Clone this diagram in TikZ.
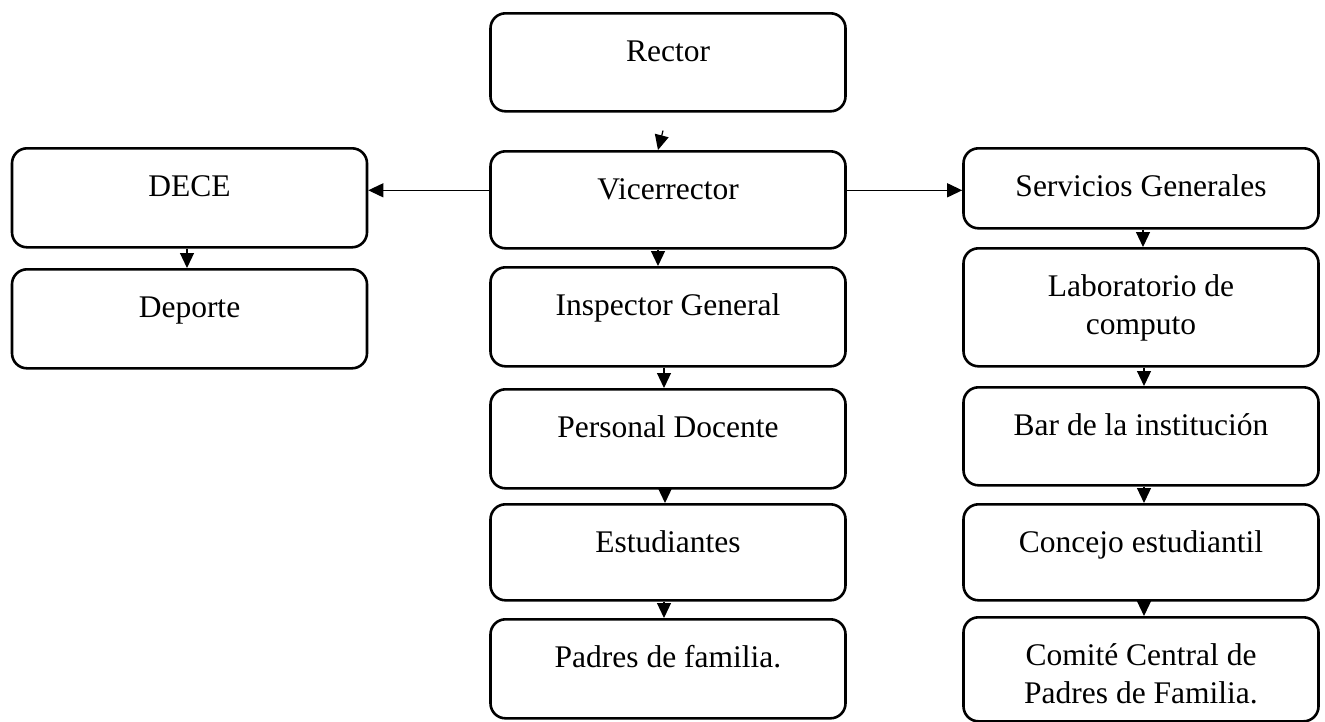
\documentclass[tikz,border=0pt]{standalone}
\usepackage{fontspec}
\setmainfont{Liberation Serif}
\usetikzlibrary{arrows.meta,positioning}
\tikzset{
  box/.style={draw,line width=2.6pt,rounded corners=15pt,minimum width=355pt,
    inner sep=0pt,anchor=north,align=center,text height=48pt,
    font=\fontsize{31.5}{38}\selectfont},
  arr/.style={line width=1.2pt,-{Triangle[length=15pt,width=14pt]}}
}
\begin{document}
\begin{tikzpicture}[x=1pt,y=-1pt]
\useasboundingbox (0,0) rectangle (1325,721);
\node[box,text depth=50pt] (rector) at (668,12) {Rector};
\node[box,text depth=49pt] (vice) at (668,150) {Vicerrector};
\node[box,text depth=51pt] (insp) at (668,266) {Inspector General};
\node[box,text depth=51pt] (doc) at (668,388) {Personal Docente};
\node[box,text depth=48pt] (est) at (668,503) {Estudiantes};
\node[box,text depth=51pt] (pad) at (668,618) {Padres de familia.};
\node[box,text depth=51pt] (dece) at (189.5,147) {DECE};
\node[box,text depth=51pt] (dep) at (189.5,268) {Deporte};
\node[box,text depth=32pt] (serv) at (1141,147) {Servicios Generales};
\node[box,text height=86pt,text depth=32pt] (lab) at (1141,247) {Laboratorio de\\computo};
\node[box,text depth=50pt] (bar) at (1141,386) {Bar de la institución};
\node[box,text depth=48pt] (conc) at (1141,503) {Concejo estudiantil};
\node[box,text height=86pt,text depth=18pt] (com) at (1141,616) {Comité Central de\\Padres de Familia.};
\coordinate (rv) at ([xshift=-5pt,yshift=-18pt]rector.south);
\draw[arr] (rv) -- ([xshift=-10pt]vice.north);
\draw[arr] ([xshift=-10pt]vice.south) -- ([xshift=-10pt]insp.north);
\draw[arr] ([xshift=-4pt]insp.south) -- ([xshift=-4pt]doc.north);
\draw[arr] ([xshift=-3pt]doc.south) -- ([xshift=-3pt]est.north);
\draw[arr] ([xshift=-4pt]est.south) -- ([xshift=-4pt]pad.north);
\draw[arr] ([xshift=-2.5pt]dece.south) -- ([xshift=-2.5pt]dep.north);
\draw[arr] ([xshift=2pt]serv.south) -- ([xshift=2pt]lab.north);
\draw[arr] ([xshift=3pt]lab.south) -- ([xshift=3pt]bar.north);
\draw[arr] ([xshift=3pt]bar.south) -- ([xshift=3pt]conc.north);
\draw[arr] ([xshift=3pt]conc.south) -- ([xshift=3pt]com.north);
\draw[arr] ([yshift=9.5pt]vice.west) coordinate (vw) -- (vw -| dece.east);
\draw[arr] ([yshift=9.5pt]vice.east) coordinate (ve) -- (ve -| serv.west);
\end{tikzpicture}
\end{document}
